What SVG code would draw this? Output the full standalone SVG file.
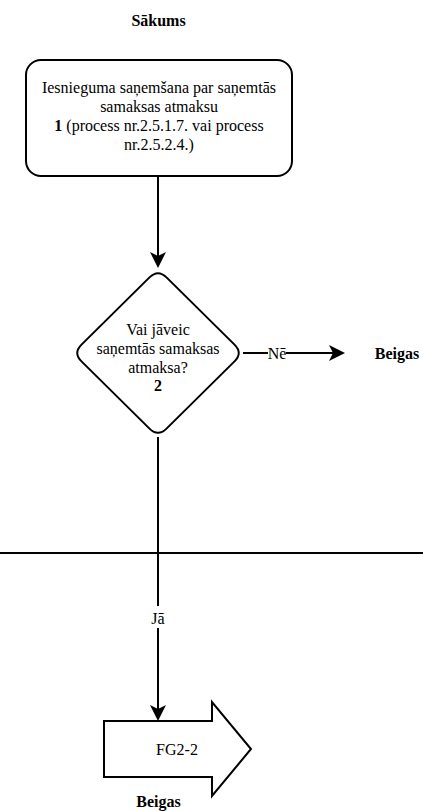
<svg xmlns="http://www.w3.org/2000/svg" width="423" height="811" viewBox="0 0 423 811" font-family="Liberation Serif, serif" font-size="16">
<style>
  text { fill: #000; text-anchor: middle; }
  .b { font-weight: bold; }
  .shape { fill: #fff; stroke: #000; stroke-width: 2; }
  .conn { fill: none; stroke: #000; stroke-width: 2; }
  .lblbg { fill: #fff; stroke: none; }
</style>
<defs>
  <marker id="arr" viewBox="0 0 16 16" refX="4" refY="8" markerWidth="16" markerHeight="16" markerUnits="userSpaceOnUse" orient="auto">
    <path d="M0,0 L16,8 L0,16 L4,8 Z" fill="#000"/>
  </marker>
</defs>
<rect width="423" height="811" fill="#fff"/>

<g id="start-label">
  <text class="b" x="158.5" y="25.5" font-family="Liberation Serif">Sākums</text>
</g>

<g id="node1" font-family="Liberation Serif">
  <rect class="shape" x="26" y="60" width="266" height="116" rx="15" ry="15"/>
  <text x="159" y="92.5">Iesnieguma saņemšana par saņemtās</text>
  <text x="159" y="111.7">samaksas atmaksu</text>
  <text x="159" y="131"><tspan class="b">1</tspan> (process nr.2.5.1.7. vai process</text>
  <text x="159" y="150">nr.2.5.2.4.)</text>
</g>

<g id="node2" font-family="Liberation Serif">
  <path class="shape" d="M149.5,277.4 Q158,269 166.5,277.4 L234.5,344.6 Q243,353 234.5,361.4 L166.5,428.6 Q158,437 149.5,428.6 L81.5,361.4 Q73,353 81.5,344.6 Z"/>
  <text x="158" y="335">Vai jāveic</text>
  <text x="158" y="354">saņemtās samaksas</text>
  <text x="158" y="372.5">atmaksa?</text>
  <text class="b" x="158" y="391">2</text>
</g>

<g id="end-right" font-family="Liberation Serif">
  <text class="b" x="397" y="358.5">Beigas</text>
</g>

<g id="lane-divider">
  <line x1="0" y1="553" x2="423" y2="553" stroke="#000" stroke-width="2"/>
</g>

<g id="node3" font-family="Liberation Serif">
  <path class="shape" d="M104,721 L212,721 L212,702 L251,749 L212,796 L212,777 L104,777 Z"/>
  <text x="177" y="754.5">FG2-2</text>
</g>

<g id="end-bottom" font-family="Liberation Serif">
  <text class="b" x="158.5" y="806.5">Beigas</text>
</g>

<g id="connectors" font-family="Liberation Serif">
  <line class="conn" x1="158" y1="176" x2="158" y2="256" marker-end="url(#arr)"/>
  <line class="conn" x1="243" y1="353" x2="333" y2="353" marker-end="url(#arr)"/>
  <rect class="lblbg" x="268" y="343" width="18" height="20"/>
  <text x="277" y="358.5">Nē</text>
  <line class="conn" x1="158" y1="437" x2="158" y2="709" marker-end="url(#arr)"/>
  <rect class="lblbg" x="150" y="606" width="16" height="22"/>
  <text x="158" y="624">Jā</text>
</g>
</svg>
